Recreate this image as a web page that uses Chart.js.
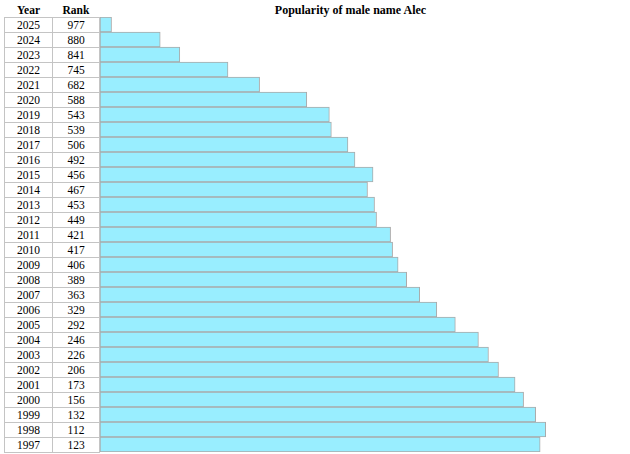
<!DOCTYPE html>
<html>
<head>
<meta charset="utf-8">
<script src="https://cdn.jsdelivr.net/npm/chart.js@4/dist/chart.umd.min.js"></script>
<style>
  body { margin: 0; background: #fff; font-family: "Liberation Serif", "Times New Roman", serif; overflow: hidden; }
  #title { position: absolute; left: 100px; width: 501px; top: 3px; height: 15px; line-height: 15px;
           text-align: center; font-weight: bold; font-size: 12px; }
  table { position: absolute; left: 4px; top: 2px; border-collapse: collapse; table-layout: fixed; font-size: 11.5px; }
  th { height: 15px; padding: 0; line-height: 14px; font-weight: bold; }
  td { height: 14px; padding: 0; line-height: 14px; text-align: center; border: 1px solid #c4c4c4; }
  #wrap { position: absolute; left: 100px; top: 17px; width: 530px; height: 435px; }
</style>
</head>
<body>
<div id="title">Popularity of male name Alec</div>
<table id="tbl">
  <colgroup><col style="width:48px"><col style="width:47px"></colgroup>
  <thead><tr><th>Year</th><th>Rank</th></tr></thead>
  <tbody></tbody>
</table>
<div id="wrap"><canvas id="chart"></canvas></div>
<script>
/* data */
const years = [2025, 2024, 2023, 2022, 2021, 2020, 2019, 2018, 2017, 2016, 2015, 2014, 2013, 2012, 2011,
  2010, 2009, 2008, 2007, 2006, 2005, 2004, 2003, 2002, 2001, 2000, 1999, 1998, 1997];
const ranks = [977, 880, 841, 745, 682, 588, 543, 539, 506, 492, 456, 467, 453, 449, 421,
  417, 406, 389, 363, 329, 292, 246, 226, 206, 173, 156, 132, 112, 123];
const rankCeiling = 1000;

/* table */
const tbody = document.querySelector('#tbl tbody');
years.forEach((y, i) => {
  const tr = document.createElement('tr');
  tr.innerHTML = '<td>' + y + '</td><td>' + ranks[i] + '</td>';
  tbody.appendChild(tr);
});

/* bars: longer bar = better rank */
const ctx = document.getElementById('chart');
new Chart(ctx, {
  type: 'bar',
  data: {
    labels: years.map(String),
    datasets: [{
      label: 'Rank',
      data: ranks.map(r => rankCeiling - r),
      backgroundColor: '#99eeff',
      borderColor: '#aaaaaa',
      borderWidth: 1,
      borderSkipped: false,
      barPercentage: 1,
      categoryPercentage: 1
    }]
  },
  options: {
    indexAxis: 'y',
    responsive: true,
    maintainAspectRatio: false,
    animation: false,
    layout: { padding: 0 },
    plugins: { legend: { display: false }, tooltip: { enabled: false } },
    scales: {
      x: { display: false, min: 0, max: 1056 },
      y: { display: false }
    }
  }
});
</script>
</body>
</html>
